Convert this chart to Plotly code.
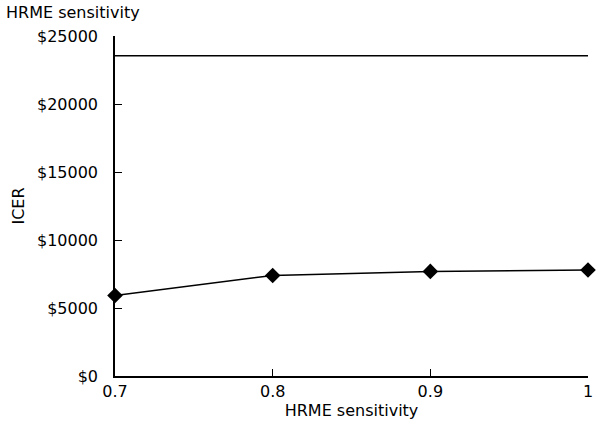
import plotly.graph_objects as go

sensitivity = [0.7, 0.8, 0.9, 1.0]
icer = [5920, 7390, 7690, 7790]
threshold_x = [0.7, 1.0]
threshold_y = [23550, 23550]
y_ticks = [0, 5000, 10000, 15000, 20000, 25000]
y_tick_labels = ["$0", "$5000", "$10000", "$15000", "$20000", "$25000"]
x_ticks = [0.7, 0.8, 0.9, 1.0]
x_tick_labels = ["0.7", "0.8", "0.9", "1"]

font = dict(family="DejaVu Sans, Verdana, sans-serif", size=16, color="black")

L, R, T, B = 115, 8, 36, 52
W, H = 596, 428
pw, ph = W - L - R, H - T - B

fig = go.Figure()
fig.add_trace(go.Scatter(x=threshold_x, y=threshold_y, mode="lines",
                         line=dict(color="black", width=1.5), showlegend=False,
                         cliponaxis=False, hoverinfo="skip"))
fig.add_trace(go.Scatter(x=sensitivity, y=icer, mode="lines+markers",
                         line=dict(color="black", width=1.5),
                         marker=dict(symbol="diamond", size=12, color="black"),
                         showlegend=False, cliponaxis=False))

fig.add_annotation(text="HRME sensitivity", xref="paper", yref="paper",
                   x=(4 - L) / pw, y=(H - B - 12) / ph, xanchor="left", yanchor="middle",
                   showarrow=False, font=font)

fig.update_layout(
    width=W, height=H,
    margin=dict(l=L, r=R, t=T, b=B, autoexpand=False),
    paper_bgcolor="white", plot_bgcolor="white",
    font=font,
    xaxis=dict(range=[0.7, 1.0], tickvals=x_ticks, ticktext=x_tick_labels,
               showgrid=False, zeroline=False, showline=True, linecolor="black", linewidth=1.5,
               ticks="inside", ticklen=7, tickcolor="black", tickwidth=1,
               automargin=False,
               title=dict(text="HRME sensitivity", font=font, standoff=4),
               tickfont=font),
    yaxis=dict(range=[0, 25000], tickvals=y_ticks, ticktext=y_tick_labels,
               showgrid=False, zeroline=False, showline=True, linecolor="black", linewidth=1.5,
               ticks="inside", ticklen=7, tickcolor="black", tickwidth=1,
               automargin=False, ticklabelstandoff=12,
               title=dict(text="ICER", font=font, standoff=8),
               tickfont=font),
)

fig.write_html("out.html", config={"displayModeBar": False},
               post_script="document.body.style.margin='0';document.body.style.padding='0';")
